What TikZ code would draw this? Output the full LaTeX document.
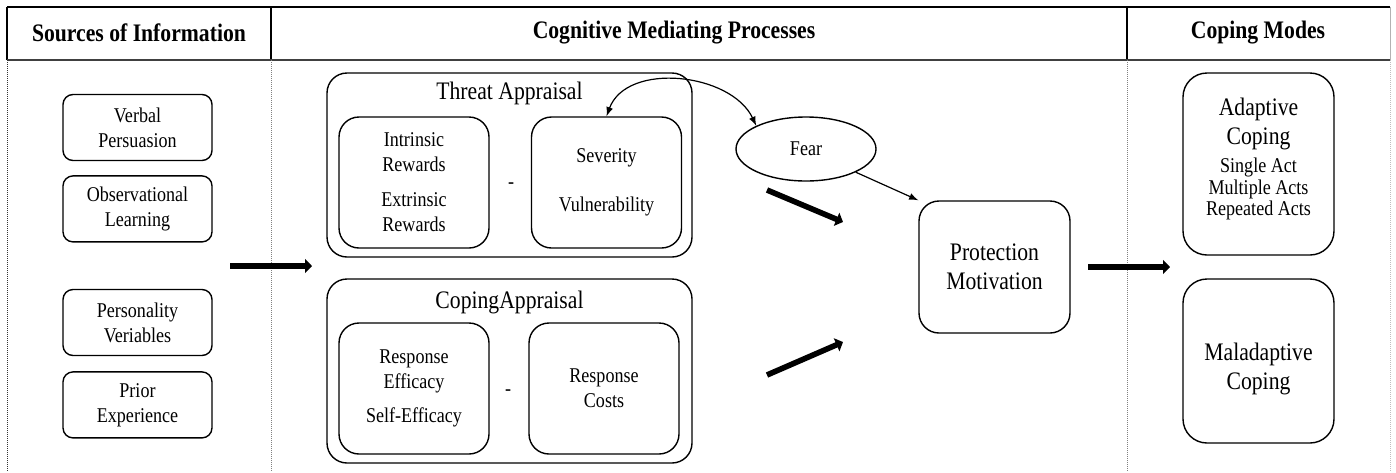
\documentclass[tikz,border=0pt]{standalone}
\usepackage{fontspec}
\setmainfont{Liberation Serif}[FakeStretch=0.86]
\usetikzlibrary{shapes.geometric, positioning, arrows, arrows.meta}

\newcommand{\txtfont}{\fontsize{10.5}{12.5}\selectfont}
\newcommand{\actfont}{\fontsize{10.5}{10.8}\selectfont}
\newcommand{\apfont}{\fontsize{12.6}{14.5}\selectfont}
\newcommand{\hdfont}{\fontsize{12.6}{14.5}\selectfont\bfseries}

\begin{document}
\begin{tikzpicture}[x=0.5pt, y=0.5pt,
    head/.style={font=\hdfont},
    src/.style={draw, line width=0.7pt, rounded corners=5pt, minimum
      width=74.5pt, minimum height=33pt, align=center, font=\txtfont},
    apbox/.style={draw, line width=0.7pt, rounded corners=10pt, minimum
      width=182.5pt, minimum height=92pt},
    subbox/.style={draw, line width=0.7pt, rounded corners=10pt, minimum
      width=75pt, minimum height=65.5pt, align=center, font=\txtfont},
    modebox/.style={draw, line width=0.7pt, rounded corners=12pt, minimum
      width=75.5pt, align=center, font=\apfont},
    sepline/.style={line width=0.5pt, gray, dash pattern=on 0.5pt off 0.5pt},
    fat/.style={line width=2.8pt, -{Triangle[length=3.5pt, width=7pt]}}]

    \useasboundingbox (0,0) rectangle (1396,-472);%

    % Table frame
    \draw [line width=1.2pt] (7,-7) -- (1390,-7);%
    \draw [line width=0.6pt] (7,-7) -- (7,-60);%
    \draw [line width=0.6pt] (271,-7) -- (271,-60);%
    \draw [line width=0.6pt] (1127,-7) -- (1127,-60);%
    \draw [line width=0.5pt, gray!60] (1390,-7) -- (1390,-60);%
    \draw [line width=1.1pt, black!75] (7,-60) -- (1390,-60);%
    \draw [sepline, black!80] (7,-60) -- (7,-472);%
    \draw [sepline] (271,-60) -- (271,-472);%
    \draw [sepline] (1127,-60) -- (1127,-472);%
    \draw [sepline, gray!50] (1390,-60) -- (1390,-472);%
    \node [head] (hSrc) at (139,-33) {Sources of Information};%
    \node [head] (hCog) at (674,-33) {Cognitive Mediating Processes};%
    \node [head] (hMode) at (1258,-33) {Coping Modes};%

    % Sources
    \node [src] (Verbal) at (137.5,-127.5) {Verbal\\Persuasion};%
    \node [src, below=7pt of Verbal] (Obs) {Observational\\Learning};%
    \node [src] (Pers) at (137.5,-322.5) {Personality\\Veriables};%
    \node [src, below=7.5pt of Pers] (Prior) {Prior\\Experience};%

    % Threat Appraisal
    \node [apbox] (Threat) at (509.5,-165) {};%
    \node [font=\apfont] (ThreatT) at (509.5,-93) {Threat Appraisal};%
    % -- rewards
    \node [subbox] (Rew) at (414,-182.5)
    {Intrinsic\\Rewards\\[5pt]Extrinsic\\Rewards};%
    % -- severity
    \node [subbox] (Sev) at (606.5,-182.5) {Severity\\[12pt]Vulnerability};%
    \node [font=\txtfont] (MinusT) at (511,-186) {-};%

    % Coping Appraisal
    \node [apbox] (Coping) at (509.5,-371) {};%
    \node [font=\apfont] (CopingT) at (509.5,-302) {CopingAppraisal};%
    % -- efficacy
    \node [subbox] (Eff) at (414,-388.5)
    {Response\\Efficacy\\[4.5pt]Self-Efficacy};%
    % -- costs
    \node [subbox] (Cost) at (604,-388.5) {Response\\Costs};%
    \node [font=\txtfont] (MinusC) at (508,-393) {-};%

    % Fear
    \node [ellipse, draw, line width=0.7pt, minimum width=70pt, minimum
    height=32pt, font=\txtfont] (Fear) at (806,-149) {Fear};%

    % Protection Motivation
    \node [modebox, rounded corners=10pt, minimum height=66pt] (PM) at
    (994.5,-267) {Protection\\Motivation};%

    % Coping Modes
    \node [modebox, minimum height=91pt] (Adapt) at (1258.5,-164) {};%
    \node [font=\apfont, align=center] (AdaptT) at (1258.5,-123.5)
    {Adaptive\\Coping};%
    \node [font=\actfont, align=center] (Acts) at (1258.5,-189)
    {Single Act\\Multiple Acts\\Repeated Acts};%
    \node [modebox, minimum height=82pt] (Mal) at (1258.5,-361) {};%
    \node [font=\apfont, align=center] (MalT) at (1258.5,-369)
    {Maladaptive\\Coping};%

    % arrows
    \coordinate (inA) at (230,-266);%
    \coordinate (inB) at (312,-266);%
    \coordinate (thA) at (767,-190);%
    \coordinate (thB) at (843,-222);%
    \coordinate (coA) at (767,-375);%
    \coordinate (coB) at (843,-342);%
    \coordinate (outA) at (1088,-267);%
    \coordinate (outB) at (1170,-267);%
    \draw [fat] (inA) -- (inB);%
    \draw [fat] (thA) -- (thB);%
    \draw [fat] (coA) -- (coB);%
    \draw [fat] (outA) -- (outB);%
    \draw [latex-latex, line width=0.6pt] (Sev.north) to[out=70, in=115]
    (Fear.155);%
    \draw [-latex, line width=0.6pt] (Fear.-25) -- (PM.north west);
  \end{tikzpicture}
\end{document}
